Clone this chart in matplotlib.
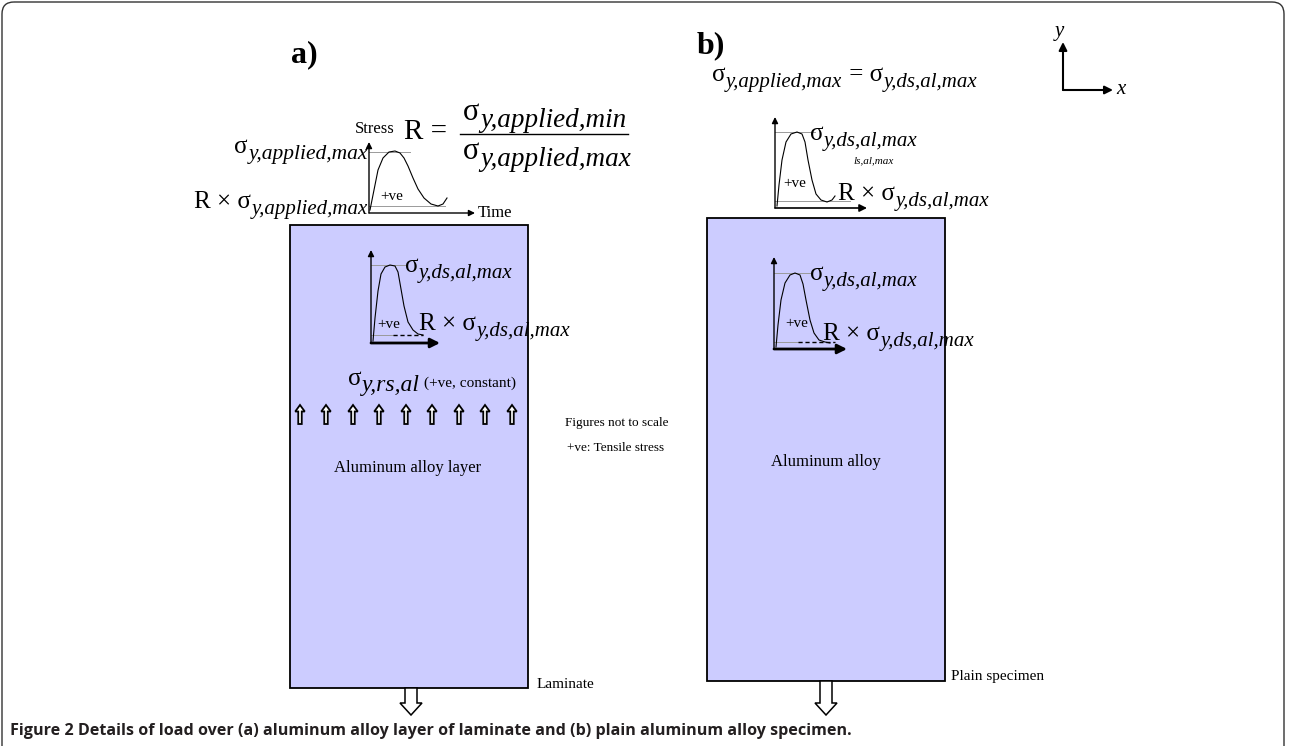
import matplotlib
matplotlib.use('Agg')
import matplotlib.pyplot as plt
import matplotlib.patches as mpatches

SERIF = 'Liberation Serif'
FILL = '#ccccff'

# specimen outlines: (left, top, right, bottom) in pixels, y pointing down
box_a = (290, 225, 528, 688)
box_b = (707, 218, 945, 681)

# schematic stress-time curves
top_a_x = [370, 374, 378, 383, 389, 395, 400, 404, 408, 413, 418, 424, 431, 438, 443, 447]
top_a_y = [210, 190, 170, 158, 152, 151, 153, 158, 166, 178, 189, 198, 204, 206, 204, 198]
in_a_x = [373, 375, 378, 381, 385, 390, 395, 398, 401, 404, 408, 413, 418, 423]
in_a_y = [341, 318, 291, 274, 267, 265, 266, 272, 289, 306, 322, 330, 334, 335]
top_b_x = [777, 779, 782, 786, 791, 797, 802, 805, 808, 812, 816, 821, 827, 832, 835]
top_b_y = [206, 185, 160, 142, 134, 132, 134, 142, 160, 180, 194, 200, 202, 200, 196]
in_b_x = [776, 778, 781, 785, 790, 795, 800, 803, 806, 810, 814, 819, 825, 830]
in_b_y = [347, 325, 300, 283, 275, 273, 275, 284, 300, 320, 333, 340, 342, 343]

# residual stress arrows inside the laminate layer
rs_arrow_x = [300, 326, 353, 379, 406, 432, 459, 485, 512]

caption = ('Figure 2 Details of load over (a) aluminum alloy layer of laminate '
           'and (b) plain aluminum alloy specimen.')

fig = plt.figure(figsize=(12.9, 7.46), dpi=100)
ax = fig.add_axes([0, 0, 1, 1])
ax.set_xlim(0, 1290)
ax.set_ylim(746, 0)
ax.axis('off')

# outer frame with rounded corners
ax.add_patch(mpatches.FancyBboxPatch((2, 2), 1282, 800,
                                     boxstyle='round,pad=0,rounding_size=12',
                                     fc='none', ec='#333333', lw=1.0))


def chain(x, y, parts, ha='left'):
    """Text pieces set one after another; y is the baseline of the first one.
    parts: (string, size, italic, dy in points relative to the previous piece)"""
    kw = dict(family=SERIF, color='black')
    if ha == 'left':
        s, size, it, dy = parts[0]
        prev = ax.text(x, y, s, fontsize=size, style='italic' if it else 'normal',
                       ha='left', va='baseline', **kw)
        first = prev
        for s, size, it, dy in parts[1:]:
            prev = ax.annotate(s, xy=(1, 0), xycoords=prev, xytext=(0.5, dy),
                               textcoords='offset points', fontsize=size,
                               style='italic' if it else 'normal',
                               ha='left', va='bottom', **kw)
        return first, prev
    total = sum(p[3] for p in parts[1:])
    s, size, it, dy = parts[-1]
    prev = ax.text(x, y - total * 100 / 72, s, fontsize=size,
                   style='italic' if it else 'normal', ha='right', va='baseline', **kw)
    last = prev
    next_dy = dy
    for s, size, it, dy in reversed(parts[:-1]):
        prev = ax.annotate(s, xy=(0, 0), xycoords=prev, xytext=(-0.5, -next_dy),
                           textcoords='offset points', fontsize=size,
                           style='italic' if it else 'normal',
                           ha='right', va='bottom', **kw)
        next_dy = dy
    return prev, last


def sigma(x, y, sub, pre='', size=18, subsize=15, ha='left'):
    return chain(x, y, [(pre + 'σ', size, False, 0), (sub, subsize, True, -4)], ha=ha)


def arrow(x0, y0, x1, y1, lw=1.0, ms=9):
    ax.annotate('', xy=(x1, y1), xytext=(x0, y0),
                arrowprops=dict(arrowstyle='-|>', color='black', lw=lw,
                                mutation_scale=ms, shrinkA=0, shrinkB=0))


def stress_plot(ox, oy, top, right, hi_y, hi_end, lo_y, lo_end, cx, cy,
                dash=None, hlw=1.0, hms=9):
    arrow(ox, oy, ox, top)
    arrow(ox, oy, right, oy, lw=hlw, ms=hms)
    ax.plot([ox, hi_end], [hi_y, hi_y], color='#9a9a9a', lw=0.7)
    ax.plot([ox, lo_end], [lo_y, lo_y], color='#9a9a9a', lw=0.7)
    if dash:
        ax.plot(dash, [lo_y, lo_y], color='black', lw=1.0, ls=(0, (3, 2)))
    ax.plot(cx, cy, color='black', lw=0.8)


def block(b):
    l, t, r, bt = b
    ax.add_patch(mpatches.Rectangle((l, t), r - l, bt - t, fc=FILL, ec='black', lw=1.3))


def load_arrow(x, y0, y1=715):
    ax.add_patch(mpatches.FancyArrow(x, y0, 0, y1 - y0, width=12, head_width=22,
                                     head_length=12, length_includes_head=True,
                                     fc='white', ec='black', lw=1.1))


def small(x, y, s, size=11, ha='left', style='normal'):
    ax.text(x, y, s, fontsize=size, family=SERIF, ha=ha, va='baseline', style=style)


# ---------------- panel a ----------------
ax.text(291, 62, 'a)', fontsize=23, fontweight='bold', family=SERIF, va='baseline')

stress_plot(369, 213, 142, 475, 152, 410, 206, 445, top_a_x, top_a_y)
ax.text(375, 133, 'Stress', fontsize=12, family=SERIF, ha='center', va='baseline')
small(478, 217, 'Time', 12)
small(380, 200, '+ve', 11)
sigma(368, 153, 'y,applied,max', subsize=15.5, ha='right')
sigma(368, 208, 'y,applied,max', pre='R × ', ha='right')

# stress ratio
small(404, 139, 'R =', 21)
num, num_end = sigma(463, 120, 'y,applied,min', size=22, subsize=19.5)
sigma(463, 159, 'y,applied,max', size=22, subsize=19.5)

block(box_a)
stress_plot(371, 343, 250, 440, 265, 405, 335, 393, in_a_x, in_a_y,
            dash=[393, 423], hlw=2.0, hms=14)
small(377, 328, '+ve', 11)
sigma(405, 272, 'y,ds,al,max')
sigma(419, 330, 'y,ds,al,max', pre='R × ')

_, rs_sub = sigma(348, 385, 'y,rs,al', subsize=17)
ax.annotate('(+ve, constant)', xy=(1, 0), xycoords=rs_sub, xytext=(3, 4),
            textcoords='offset points', fontsize=11, family=SERIF,
            ha='left', va='bottom')
for x in rs_arrow_x:
    ax.add_patch(mpatches.FancyArrow(x, 424, 0, -19, width=3.5, head_width=9.5,
                                     head_length=6.5, length_includes_head=True,
                                     fc='white', ec='black', lw=1.3))

small(408, 472, 'Aluminum alloy layer', 12, ha='center')
small(box_a[2] + 9, box_a[3], 'Laminate', 11)
load_arrow(411, box_a[3])

small(565, 426, 'Figures not to scale', 9.5)
small(567, 451, '+ve: Tensile stress', 9.5)

# ---------------- panel b ----------------
ax.text(697, 53, 'b)', fontsize=23, fontweight='bold', family=SERIF, va='baseline')
chain(712, 81, [('σ', 18, False, 0), ('y,applied,max', 15, True, -4),
                (' = σ', 18, False, 4), ('y,ds,al,max', 15, True, -4)])

stress_plot(775, 208, 117, 867, 132, 815, 201, 850, top_b_x, top_b_y, hlw=1.2, hms=11)
small(783, 187, '+ve', 11)
sigma(810, 140, 'y,ds,al,max')
small(853, 163, 'ls,al,max', 8, style='italic')
sigma(838, 200, 'y,ds,al,max', pre='R × ')

block(box_b)
stress_plot(774, 349, 257, 847, 273, 810, 342, 798, in_b_x, in_b_y,
            dash=[798, 835], hlw=2.0, hms=14)
small(785, 327, '+ve', 11)
sigma(810, 280, 'y,ds,al,max')
sigma(823, 340, 'y,ds,al,max', pre='R × ')

small(826, 466, 'Aluminum alloy', 12, ha='center')
small(box_b[2] + 6, box_b[3] - 1, 'Plain specimen', 11)
load_arrow(826, box_b[3])

# reference directions
arrow(1063, 90, 1063, 42, lw=1.5, ms=12)
arrow(1063, 90, 1113, 90, lw=1.5, ms=12)
small(1055, 36, 'y', 15, style='italic')
small(1116, 94, 'x', 15, style='italic')

ax.text(10, 735, caption, fontsize=11.6, family='Open Sans', fontweight='bold',
        color='#231f20', va='baseline')

# fraction bar spans the numerator
fig.canvas.draw()
bb = num_end.get_window_extent()
x_end = ax.transData.inverted().transform((bb.x1, bb.y0))[0]
ax.plot([460, x_end + 2], [134, 134], color='black', lw=1.0)

fig.savefig('out.png', dpi=100)
